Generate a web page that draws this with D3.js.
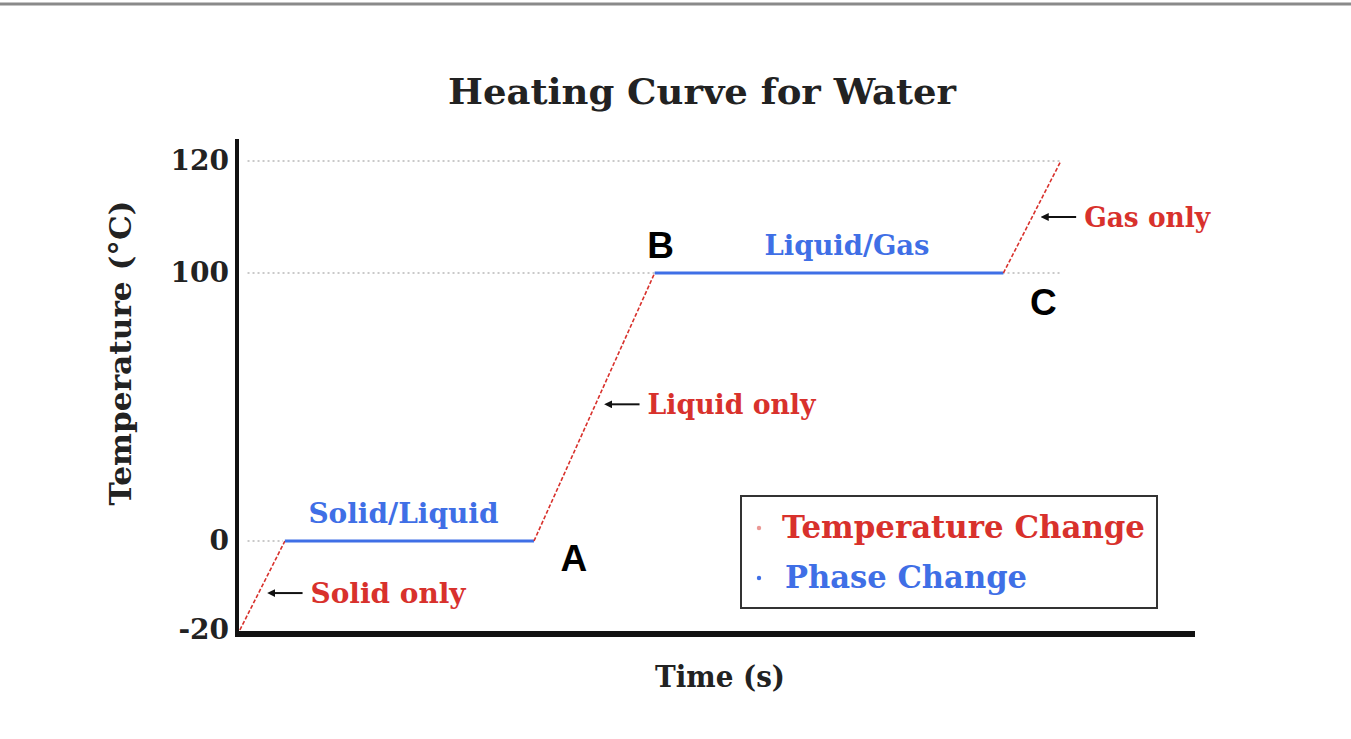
<!DOCTYPE html>
<html lang="en">
<head>
<meta charset="UTF-8">
<title>Heating Curve for Water</title>
<script src="https://d3js.org/d3.v7.min.js"></script>
<style>
  body { margin: 0; background: #fff; }
  svg { display: block; }
  .serif { font-family: "DejaVu Serif", "Liberation Serif", serif; font-weight: bold; }
  .sans  { font-family: "Liberation Sans", Arial, sans-serif; font-weight: bold; }
</style>
</head>
<body>
<svg id="chart"></svg>
<script>
// data: time (arbitrary units) and temperature in °C
const times = [0.3, 5, 31, 43.6, 80, 86];
const temps = [-20, 0, 0, 100, 100, 120];
// each segment: [start index, end index, kind]
const segments = [
  [0, 1, "temp"], [1, 2, "phase"], [2, 3, "temp"], [3, 4, "phase"], [4, 5, "temp"]
];
const yTicks = [-20, 0, 100, 120];
const gridTemps = [120, 100, 0];
const gridEnds = [86, 86, 4.8];

const pointLetters = [["A", 31, 0], ["B", 43.6, 100], ["C", 80, 100]];
const phaseLabels = [["Solid/Liquid", 1, 2], ["Liquid/Gas", 3, 4]];
const onlyLabels = [["Solid only", 0, 1], ["Liquid only", 2, 3], ["Gas only", 4, 5]];
const onlyTemps = [-11.7, 51, 110];   // temperature where each arrow points
const legendItems = [["Temperature Change", "temp"], ["Phase Change", "phase"]];

const colors = { temp: "#d8312c", phase: "#3f6fe6" };

const W = 1351, H = 739;
const svg = d3.select("#chart").attr("width", W).attr("height", H);

// thin grey frame line at the top
svg.append("line")
  .attr("x1", 0).attr("x2", W).attr("y1", 4).attr("y2", 4)
  .attr("stroke", "#8a8a8a").attr("stroke-width", 3);

const x = d3.scaleLinear().domain([0, 100]).range([237, 1195]);
// broken axis: uneven spacing between the tick values
const y = d3.scaleLinear().domain([-20, 0, 100, 120]).range([630, 541, 273, 161]);

// title
svg.append("text").attr("class", "serif")
  .attr("x", 702).attr("y", 104).attr("text-anchor", "middle")
  .style("font-size", "36px").attr("fill", "#222")
  .attr("textLength", 508).attr("lengthAdjust", "spacingAndGlyphs")
  .text("Heating Curve for Water");

// dotted grid lines
svg.append("g").selectAll("line")
  .data(gridTemps)
  .join("line")
  .attr("x1", x(1.1)).attr("x2", (d, i) => x(gridEnds[i]))
  .attr("y1", d => y(d)).attr("y2", d => y(d))
  .attr("stroke", "#b8b8b8").attr("stroke-width", 1.5)
  .attr("stroke-dasharray", "2,3");

// axes
const yAxis = svg.append("g")
  .attr("transform", `translate(${x(0)},0)`)
  .call(d3.axisLeft(y).tickValues(yTicks).tickSize(0).tickPadding(8)
    .tickFormat(d => String(d)));
yAxis.select(".domain").remove();
yAxis.selectAll("text")
  .attr("class", "serif").style("font-size", "28px").attr("fill", "#222");

svg.append("line")
  .attr("x1", x(0)).attr("x2", x(0)).attr("y1", 139).attr("y2", 636)
  .attr("stroke", "#111").attr("stroke-width", 4);
svg.append("line")
  .attr("x1", x(0) - 2).attr("x2", x(100)).attr("y1", 634).attr("y2", 634)
  .attr("stroke", "#111").attr("stroke-width", 6);

// axis titles
svg.append("text").attr("class", "serif")
  .attr("transform", "translate(131,353) rotate(-90)")
  .attr("text-anchor", "middle").style("font-size", "30px").attr("fill", "#222")
  .attr("textLength", 305).attr("lengthAdjust", "spacingAndGlyphs")
  .text("Temperature (°C)");
svg.append("text").attr("class", "serif")
  .attr("x", 720).attr("y", 687).attr("text-anchor", "middle")
  .style("font-size", "29px").attr("fill", "#222")
  .attr("textLength", 130).attr("lengthAdjust", "spacingAndGlyphs")
  .text("Time (s)");

// curve segments
svg.append("g").selectAll("line")
  .data(segments)
  .join("line")
  .attr("x1", d => x(times[d[0]])).attr("y1", d => y(temps[d[0]]))
  .attr("x2", d => x(times[d[1]])).attr("y2", d => y(temps[d[1]]))
  .attr("stroke", d => colors[d[2]])
  .attr("stroke-width", d => d[2] === "phase" ? 3 : 1.6)
  .attr("stroke-dasharray", d => d[2] === "temp" ? "4,2" : null);

// A, B, C
const letterOffsets = { A: [40, 30], B: [6, -15], C: [40, 42] };
svg.append("g").selectAll("text")
  .data(pointLetters)
  .join("text").attr("class", "sans")
  .attr("x", d => x(d[1]) + letterOffsets[d[0]][0])
  .attr("y", d => y(d[2]) + letterOffsets[d[0]][1])
  .attr("text-anchor", "middle").style("font-size", "37px").attr("fill", "#000")
  .text(d => d[0]);

// phase-change labels over the flat parts
const phaseFit = { "Solid/Liquid": [-6, 190], "Liquid/Gas": [18, 165] };
svg.append("g").selectAll("text")
  .data(phaseLabels)
  .join("text").attr("class", "serif")
  .attr("x", d => (x(times[d[1]]) + x(times[d[2]])) / 2 + phaseFit[d[0]][0])
  .attr("y", d => y(temps[d[1]]) - 18)
  .attr("text-anchor", "middle").style("font-size", "28px")
  .attr("fill", colors.phase)
  .attr("textLength", d => phaseFit[d[0]][1]).attr("lengthAdjust", "spacingAndGlyphs")
  .text(d => d[0]);

// "... only" labels with arrows pointing at the sloped parts
const defs = svg.append("defs");
defs.append("marker").attr("id", "arrow")
  .attr("viewBox", "0 0 10 10").attr("refX", 2).attr("refY", 5)
  .attr("markerWidth", 4).attr("markerHeight", 4).attr("orient", "auto-start-reverse")
  .append("path").attr("d", "M0,0 L10,5 L0,10 z").attr("fill", "#111");

const onlyLens = [155, 168, 126];
const onlyG = svg.append("g").selectAll("g")
  .data(onlyLabels)
  .join("g")
  .attr("transform", (d, i) => {
    const t0 = times[d[1]], t1 = times[d[2]];
    const v0 = temps[d[1]], v1 = temps[d[2]];
    const tt = t0 + (onlyTemps[i] - v0) / (v1 - v0) * (t1 - t0);
    return `translate(${x(tt)},${y(onlyTemps[i])})`;
  });
onlyG.append("line")
  .attr("x1", 44).attr("x2", 15).attr("y1", 0).attr("y2", 0)
  .attr("stroke", "#111").attr("stroke-width", 2)
  .attr("marker-end", "url(#arrow)");
onlyG.append("text").attr("class", "serif")
  .attr("x", 52).attr("y", 10).style("font-size", "28px")
  .attr("fill", colors.temp)
  .attr("textLength", (d, i) => onlyLens[i]).attr("lengthAdjust", "spacingAndGlyphs")
  .text(d => d[0]);

// legend
const lg = svg.append("g").attr("transform", "translate(741,496)");
lg.append("rect").attr("width", 416).attr("height", 112)
  .attr("fill", "#fff").attr("stroke", "#333").attr("stroke-width", 2);
const legendLens = [363, 242];
const li = lg.selectAll("g.item").data(legendItems).join("g")
  .attr("class", "item")
  .attr("transform", (d, i) => `translate(0,${42 + i * 50})`);
li.append("circle").attr("cx", 18).attr("cy", -10).attr("r", 2.2)
  .attr("fill", d => colors[d[1]]).attr("opacity", (d, i) => i === 0 ? 0.5 : 1);
li.append("text").attr("class", "serif")
  .attr("x", (d, i) => 41 + i * 3).attr("y", 0).style("font-size", "31px")
  .attr("fill", d => colors[d[1]])
  .attr("textLength", (d, i) => legendLens[i]).attr("lengthAdjust", "spacingAndGlyphs")
  .text(d => d[0]);
</script>
</body>
</html>
